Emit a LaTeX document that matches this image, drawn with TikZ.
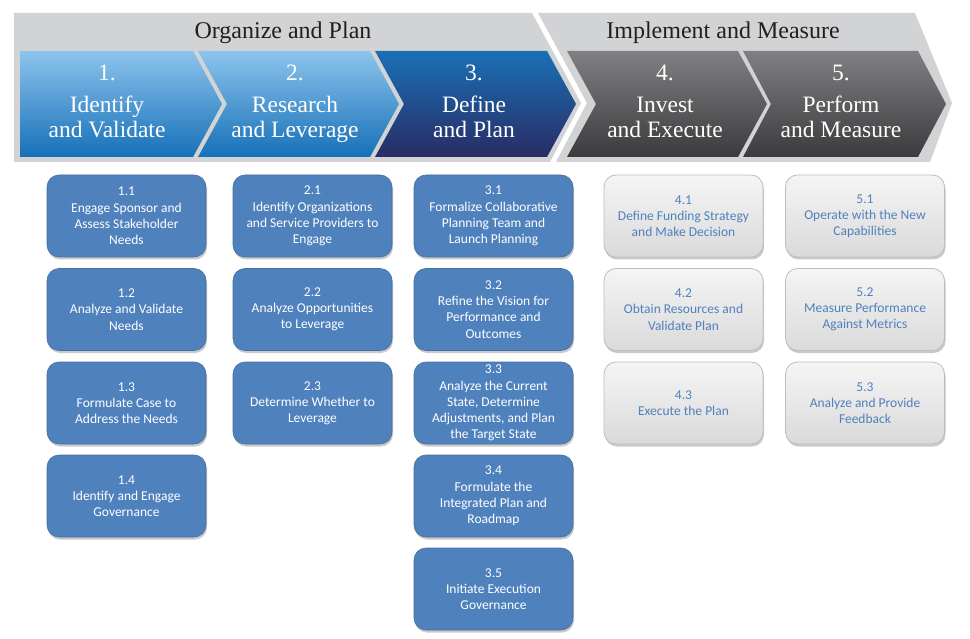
\documentclass[tikz,border=0pt]{standalone}
\usepackage{fontspec}
\newfontfamily\boxfont{Carlito}
\newfontfamily\headfont{Liberation Serif}
\usetikzlibrary{shadows}
\definecolor{bannergray}{HTML}{D2D3D5}
\definecolor{chlighttop}{HTML}{8CC4EC}
\definecolor{chlightbot}{HTML}{1670B8}
\definecolor{chdarktop}{HTML}{1A70B6}
\definecolor{chdarkbot}{HTML}{292C64}
\definecolor{chgraytop}{HTML}{808083}
\definecolor{chgraybot}{HTML}{3B3B3D}
\definecolor{boxblue}{HTML}{4F81BD}
\definecolor{boxblueedge}{HTML}{44709F}
\definecolor{boxgray}{HTML}{F2F2F2}
\definecolor{boxgrayedge}{HTML}{BDBDBD}
\definecolor{boxtext}{HTML}{4F81BD}
\definecolor{headink}{HTML}{231F20}
\begin{document}
\begin{tikzpicture}[x=1pt,y=-1pt,
  headtext/.style={font=\headfont\fontsize{24}{28}\selectfont, text=headink, anchor=base, inner sep=0},
  chevtext/.style={font=\headfont\fontsize{23.5}{27}\selectfont, text=white, anchor=base, inner sep=0},
  taskbox/.style={rounded corners=12pt, minimum width=159pt, minimum height=82pt,
    align=center, inner sep=0pt, font=\boxfont\fontsize{13.5}{16.2}\selectfont,
    drop shadow={shadow xshift=1pt, shadow yshift=-2.5pt, opacity=0.35, fill=black!60}},
  bluebox/.style={taskbox, fill=boxblue, draw=boxblueedge, line width=0.6pt, text=white},
  graybox/.style={taskbox, top color=white!96!black, bottom color=boxgray!90!black, draw=boxgrayedge, line width=0.8pt, text=boxtext}
]
\useasboundingbox (0,0) rectangle (970,639);

% banners
\fill[bannergray] (14,13) -- (532,13) -- (581,103) -- (550,162) -- (14,162) -- cycle;
\fill[bannergray] (538,13) -- (915,13) -- (952,103) -- (930,162) -- (556,162) -- (587,103) -- cycle;
\node[headtext] (h1) at (283,39) {Organize and Plan};
\node[headtext] (h2) at (723,39) {Implement and Measure};

% chevrons
\shade[top color=chlighttop, bottom color=chlightbot] (20,51) -- (193,51) -- (222,104) -- (193,157) -- (20,157) -- cycle;
\shade[top color=chlighttop, bottom color=chlightbot] (198,51) -- (370,51) -- (399,104) -- (370,157) -- (198,157) -- (227,104) -- cycle;
\shade[top color=chdarktop, bottom color=chdarkbot] (375,51) -- (547,51) -- (576,104) -- (547,157) -- (375,157) -- (404,104) -- cycle;
\shade[top color=chgraytop, bottom color=chgraybot] (567,51) -- (738,51) -- (767,104) -- (738,157) -- (567,157) -- (596,104) -- cycle;
\shade[top color=chgraytop, bottom color=chgraybot] (743,51) -- (918,51) -- (946,104) -- (918,157) -- (743,157) -- (771,104) -- cycle;

\node[chevtext] (c1n) at (107,81) {1.};
\node[chevtext] (c1a) at (107,113) {Identify};
\node[chevtext] (c1b) at (107,138) {and Validate};
\node[chevtext] (c2n) at (295,81) {2.};
\node[chevtext] (c2a) at (295,113) {Research};
\node[chevtext] (c2b) at (295,138) {and Leverage};
\node[chevtext] (c3n) at (474,81) {3.};
\node[chevtext] (c3a) at (474,113) {Define};
\node[chevtext] (c3b) at (474,138) {and Plan};
\node[chevtext] (c4n) at (665,81) {4.};
\node[chevtext] (c4a) at (665,113) {Invest};
\node[chevtext] (c4b) at (665,138) {and Execute};
\node[chevtext] (c5n) at (841,81) {5.};
\node[chevtext] (c5a) at (841,113) {Perform};
\node[chevtext] (c5b) at (841,138) {and Measure};

% column 1
\node[bluebox] (t11) at (126.5,216) {1.1\\Engage Sponsor and\\Assess Stakeholder\\Needs};
\node[bluebox] (t12) at (126.5,309.5) {1.2\\Analyze and Validate\\Needs};
\node[bluebox] (t13) at (126.5,403) {1.3\\Formulate Case to\\Address the Needs};
\node[bluebox] (t14) at (126.5,496) {1.4\\Identify and Engage\\Governance};
% column 2
\node[bluebox] (t21) at (312.5,216) {2.1\\Identify Organizations\\and Service Providers to\\Engage};
\node[bluebox] (t22) at (312.5,309.5) {2.2\\Analyze Opportunities\\to Leverage};
\node[bluebox] (t23) at (312.5,403) {2.3\\Determine Whether to\\Leverage};
% column 3
\node[bluebox] (t31) at (493.5,216) {3.1\\Formalize Collaborative\\Planning Team and\\Launch Planning};
\node[bluebox] (t32) at (493.5,309.5) {3.2\\Refine the Vision for\\Performance and\\Outcomes};
\node[bluebox] (t33) at (493.5,403) {3.3\\Analyze the Current\\State, Determine\\Adjustments, and Plan\\the Target State};
\node[bluebox] (t34) at (493.5,496) {3.4\\Formulate the\\Integrated Plan and\\Roadmap};
\node[bluebox] (t35) at (493.5,589) {3.5\\Initiate Execution\\Governance};
% column 4
\node[graybox] (t41) at (683.5,216) {4.1\\Define Funding Strategy\\and Make Decision};
\node[graybox] (t42) at (683.5,309.5) {4.2\\Obtain Resources and\\Validate Plan};
\node[graybox] (t43) at (683.5,403) {4.3\\Execute the Plan};
% column 5
\node[graybox] (t51) at (865,216) {5.1\\Operate with the New\\Capabilities};
\node[graybox] (t52) at (865,309.5) {5.2\\Measure Performance\\Against Metrics};
\node[graybox] (t53) at (865,403) {5.3\\Analyze and Provide\\Feedback};
\end{tikzpicture}
\end{document}
